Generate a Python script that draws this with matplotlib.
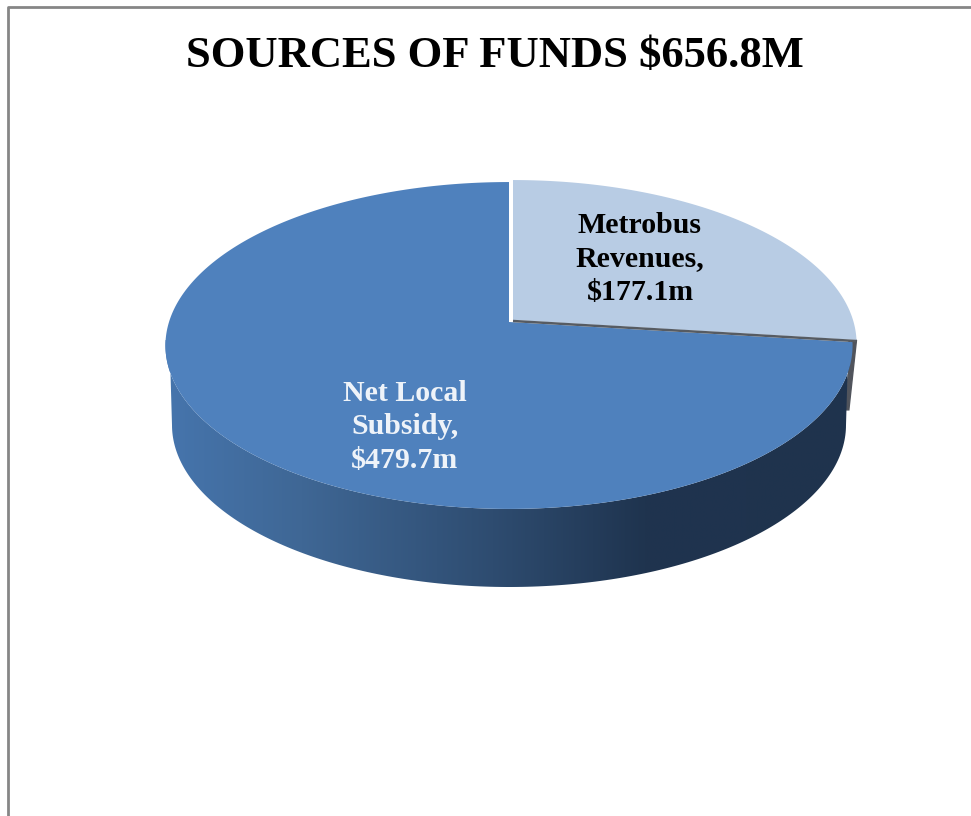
import numpy as np
import matplotlib
matplotlib.use("Agg")
import matplotlib.pyplot as plt
from matplotlib.colors import LinearSegmentedColormap
from matplotlib.patches import Polygon

# Chart data
title = "SOURCES OF FUNDS $656.8M"
categories = ["Metrobus\nRevenues", "Net Local\nSubsidy"]
values = [177.1, 479.7]
slice_colors = ["#b8cce4", "#4f81bd"]
label_colors = ["black", "#eef3f9"]

WIDTH, HEIGHT = 971, 816


def top_rim(theta, shift_x=0.0, shift_y=0.0):
    # theta is clockwise from 12 o'clock, perspective moves the apex up
    x = np.sin(theta)
    y = np.cos(theta)
    den = 1 + 0.1437 * y
    px = 509 + 340 * x / den
    py = (322 - 113.8 * y) / den
    return px + shift_x, py + shift_y


def bottom_rim(theta):
    return 509 + 337 * np.sin(theta), 425 - 162 * np.cos(theta)


fig = plt.figure(figsize=(WIDTH / 100, HEIGHT / 100), dpi=100)
ax = fig.add_axes([0, 0, 1, 1])
ax.set_xlim(0, WIDTH)
ax.set_ylim(HEIGHT, 0)
ax.axis("off")

# Chart frame, only left and top edges are visible
ax.plot([8, 8, WIDTH], [HEIGHT, 7, 7], color="#868686", lw=2.0, zorder=1)

fractions = np.array(values) / sum(values)
split = 2 * np.pi * fractions[0]
metro_shift = (4, -2)

# Grey side of the pulled out slice, peeking behind the wall
bx, by = top_rim(split)
mx, my = top_rim(split, *metro_shift)
wx, wy = bottom_rim(np.pi / 2 + 0.03)
ax.add_patch(Polygon([(bx, by), (mx, my), (wx + 3, wy - 20), (wx - 2, wy - 20)],
                     closed=True, color="#50545c", zorder=2))

# Side wall with horizontal gradient
theta_wall = np.linspace(np.pi / 2, 3 * np.pi / 2, 200)
low_x, low_y = bottom_rim(theta_wall)
up_x, up_y = top_rim(theta_wall[::-1])
wall = Polygon(np.column_stack([np.r_[low_x, up_x], np.r_[low_y, up_y]]),
               closed=True, facecolor="none", edgecolor="none")
ax.add_patch(wall)
wall_cmap = LinearSegmentedColormap.from_list(
    "wall",
    [(0.0, "#4675ad"), (0.2, "#3f6795"), (0.48, "#2e4c70"),
     (0.7, "#1f344f"), (1.0, "#1f334d")],
)
grad = ax.imshow(np.linspace(0, 1, 256).reshape(1, -1), cmap=wall_cmap,
                 extent=[164, 850, 590, 340], aspect="auto", zorder=3)
grad.set_clip_path(wall)
ax.set_xlim(0, WIDTH)
ax.set_ylim(HEIGHT, 0)

# Top faces of the two slices
theta_net = np.linspace(split, 2 * np.pi, 300)
net_x, net_y = top_rim(theta_net)
apex_x, apex_y = top_rim(0.0)[0], 322
ax.add_patch(Polygon(np.column_stack([np.r_[apex_x, net_x], np.r_[apex_y, net_y]]),
                     closed=True, facecolor=slice_colors[1], edgecolor="none", zorder=4))

theta_metro = np.linspace(0, split, 120)
met_x, met_y = top_rim(theta_metro, *metro_shift)
met_ax, met_ay = apex_x + metro_shift[0], apex_y + metro_shift[1]
ax.add_patch(Polygon(np.column_stack([np.r_[met_ax, met_x], np.r_[met_ay, met_y]]),
                     closed=True, facecolor=slice_colors[0], edgecolor="none", zorder=5))
ax.plot([met_ax, met_x[-1]], [met_ay + 1, met_y[-1] + 1], color="#565b62",
        lw=1.8, zorder=6, solid_capstyle="butt")

# Text
font = "Liberation Serif"
ax.text(495, 56, title, family=font, weight="bold", fontsize=32.1,
        ha="center", va="center", color="black", zorder=7)
label_pos = [(640, 259), (405, 427)]
for cat, val, col, pos in zip(categories, values, label_colors, label_pos):
    ax.text(pos[0], pos[1], f"{cat},\n\\${val}m", family=font, weight="bold",
            fontsize=21.5, ha="center", va="center", color=col,
            linespacing=1.31, zorder=7)

fig.savefig("out.png", dpi=100, facecolor="white")
